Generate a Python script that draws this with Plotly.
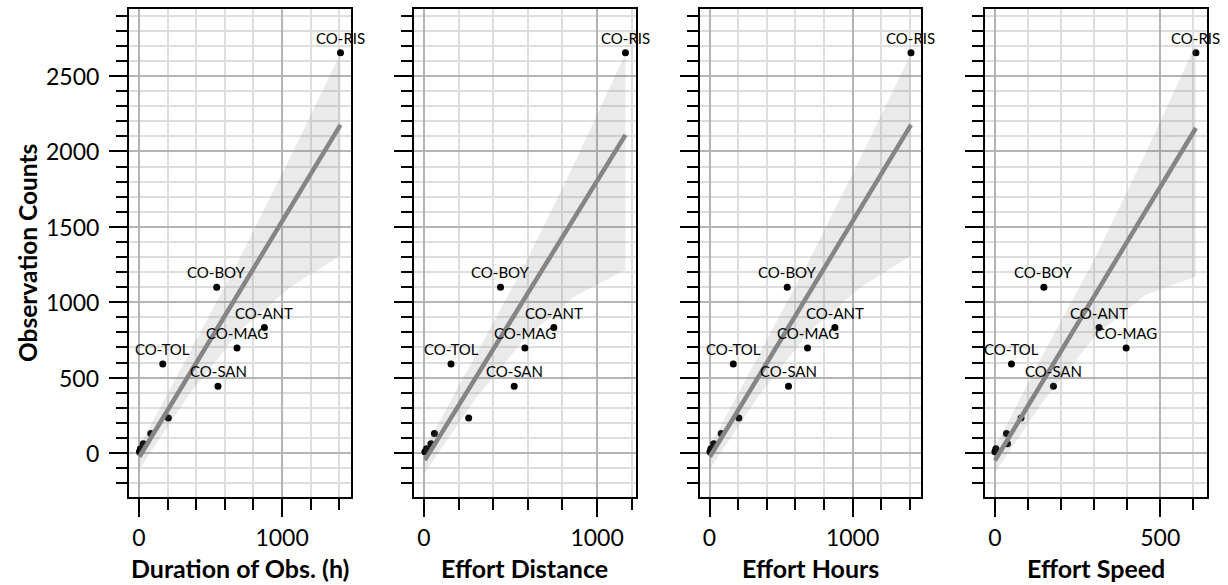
import numpy as np
import plotly.graph_objects as go

# ---------------- data ----------------
labels = ["CO-RIS", "CO-BOY", "CO-ANT", "CO-MAG", "CO-TOL", "CO-SAN", "", "", "", "", ""]
obs_counts = [2655, 1100, 832, 697, 591, 443, 232, 130, 62, 28, 8]
duration_h = [1408, 543, 876, 685, 166, 552, 205, 82, 30, 10, 3]
effort_distance = [1164, 442, 750, 583, 156, 521, 258, 60, 40, 15, 5]
effort_hours = [1408, 543, 876, 685, 166, 552, 205, 82, 30, 10, 3]
effort_speed = [608, 148, 315, 397, 50, 177, 79, 35, 38, 3, 0]

x_titles = ["Duration of Obs. (h)", "Effort Distance", "Effort Hours", "Effort Speed"]
y_title = "Observation Counts"
y_tick_vals = [0, 500, 1000, 1500, 2000, 2500]

# regression fit (intercept, slope) per panel
fit_intercepts = [-30, -57, -30, -50]
fit_slopes = [1.567, 1.862, 1.567, 3.628]

# confidence band of the regression
band1_x = [0, 352, 704, 1056, 1408]
band1_lo = [-110, 390, 810, 1100, 1310]
band1_hi = [40, 670, 1290, 1960, 2650]
band2_x = [0, 291, 582, 873, 1164]
band2_lo = [-140, 350, 760, 1040, 1215]
band2_hi = [20, 640, 1250, 1930, 2650]
band3_x = [0, 352, 704, 1056, 1408]
band3_lo = [-110, 390, 810, 1100, 1310]
band3_hi = [40, 670, 1290, 1960, 2650]
band4_x = [0, 152, 304, 456, 608]
band4_lo = [-130, 360, 780, 1050, 1170]
band4_hi = [40, 680, 1300, 1990, 2710]

x_ranges = [[-70, 1478], [-58, 1222], [-70, 1478], [-30, 640]]
x_dticks = [1000, 1000, 1000, 500]
x_minor = [200, 200, 200, 100]
y_range = [-292, 2945]

xs_all = [duration_h, effort_distance, effort_hours, effort_speed]
bands = [(band1_x, band1_lo, band1_hi), (band2_x, band2_lo, band2_hi),
         (band3_x, band3_lo, band3_hi), (band4_x, band4_lo, band4_hi)]

# ---------------- layout geometry ----------------
W, H = 1228, 585
px_domains = [(129, 350.5), (414, 635.5), (699.5, 921), (985, 1206.5)]
y_dom = [1 - 497 / H, 1 - 9 / H]

FONT = "Lato"
fig = go.Figure()

major_grid = "#b4b4b4"
minor_grid = "#dedede"

for i in range(4):
    xa = "x" if i == 0 else f"x{i+1}"
    ya = "y" if i == 0 else f"y{i+1}"
    xv = np.array(xs_all[i], dtype=float)
    yv = np.array(obs_counts, dtype=float)

    # scatter
    fig.add_trace(go.Scatter(x=xv, y=yv, mode="markers", xaxis=xa, yaxis=ya,
                             marker=dict(color="black", size=7), showlegend=False,
                             hoverinfo="skip"))
    # band
    bx, blo, bhi = bands[i]
    fig.add_trace(go.Scatter(x=list(bx) + list(bx)[::-1], y=list(bhi) + list(blo)[::-1],
                             fill="toself", fillcolor="rgba(128,128,128,0.17)",
                             line=dict(width=0), mode="lines", xaxis=xa, yaxis=ya,
                             showlegend=False, hoverinfo="skip"))
    # regression line
    lx = np.array([xv.min(), xv.max()])
    fig.add_trace(go.Scatter(x=lx, y=fit_intercepts[i] + fit_slopes[i] * lx, mode="lines",
                             line=dict(color="#858585", width=4.5), xaxis=xa, yaxis=ya,
                             showlegend=False, hoverinfo="skip"))
    # labels
    for xx, yy, lab in zip(xv, yv, labels):
        if lab:
            fig.add_annotation(x=xx, y=yy, xref=xa, yref=ya, text=lab, showarrow=False,
                               yshift=15, font=dict(family=FONT, size=15, color="black"))

    d0, d1 = px_domains[i]
    xaxis = dict(domain=[d0 / W, d1 / W], range=x_ranges[i], anchor=ya,
                 showline=True, linecolor="black", linewidth=2, mirror=True,
                 ticks="outside", ticklen=18, tickwidth=2, tickcolor="black",
                 tick0=0, dtick=x_dticks[i], zeroline=False,
                 showgrid=True, gridcolor=major_grid, gridwidth=2,
                 ticklabelstandoff=1,
                 tickfont=dict(family=FONT, size=23, color="black"),
                 minor=dict(dtick=x_minor[i], tick0=0, ticks="outside", ticklen=11,
                            tickwidth=2, tickcolor="black", showgrid=True,
                            gridcolor=minor_grid, gridwidth=1.5))
    yaxis = dict(domain=y_dom, range=y_range, anchor=xa,
                 showline=True, linecolor="black", linewidth=2, mirror=True,
                 ticks="outside", ticklen=18, tickwidth=2, tickcolor="black",
                 tick0=0, dtick=500, zeroline=False,
                 showgrid=True, gridcolor=major_grid, gridwidth=2,
                 showticklabels=False,
                 minor=dict(dtick=100, tick0=0, ticks="outside", ticklen=11,
                            tickwidth=2, tickcolor="black", showgrid=True,
                            gridcolor=minor_grid, gridwidth=1.5))
    if i > 0:
        yaxis["matches"] = "y"
    fig.layout["xaxis" if i == 0 else f"xaxis{i+1}"] = xaxis
    fig.layout["yaxis" if i == 0 else f"yaxis{i+1}"] = yaxis

    # x title
    fig.add_annotation(x=(d0 + d1) / 2 / W, y=1 - 568 / H, xref="paper", yref="paper",
                       text=x_titles[i], showarrow=False, xanchor="center", yanchor="middle",
                       font=dict(family=FONT, size=25, color="black", weight="bold"))

# y tick labels of the shared axis (left panel only)
for v in y_tick_vals:
    fig.add_annotation(x=101 / W, y=v, xref="paper", yref="y", text=str(v),
                       showarrow=False, xanchor="right", yanchor="middle",
                       font=dict(family=FONT, size=23, color="black"))

fig.add_annotation(x=27 / W, y=1 - 253 / H, xref="paper", yref="paper", text=y_title,
                   textangle=-90, showarrow=False, xanchor="center", yanchor="middle",
                   font=dict(family=FONT, size=24.5, color="black", weight="bold"))

fig.update_layout(width=W, height=H, margin=dict(l=0, r=0, t=0, b=0),
                  paper_bgcolor="white", plot_bgcolor="white",
                  font=dict(family=FONT, color="black"))

fig.write_html("out.html")
